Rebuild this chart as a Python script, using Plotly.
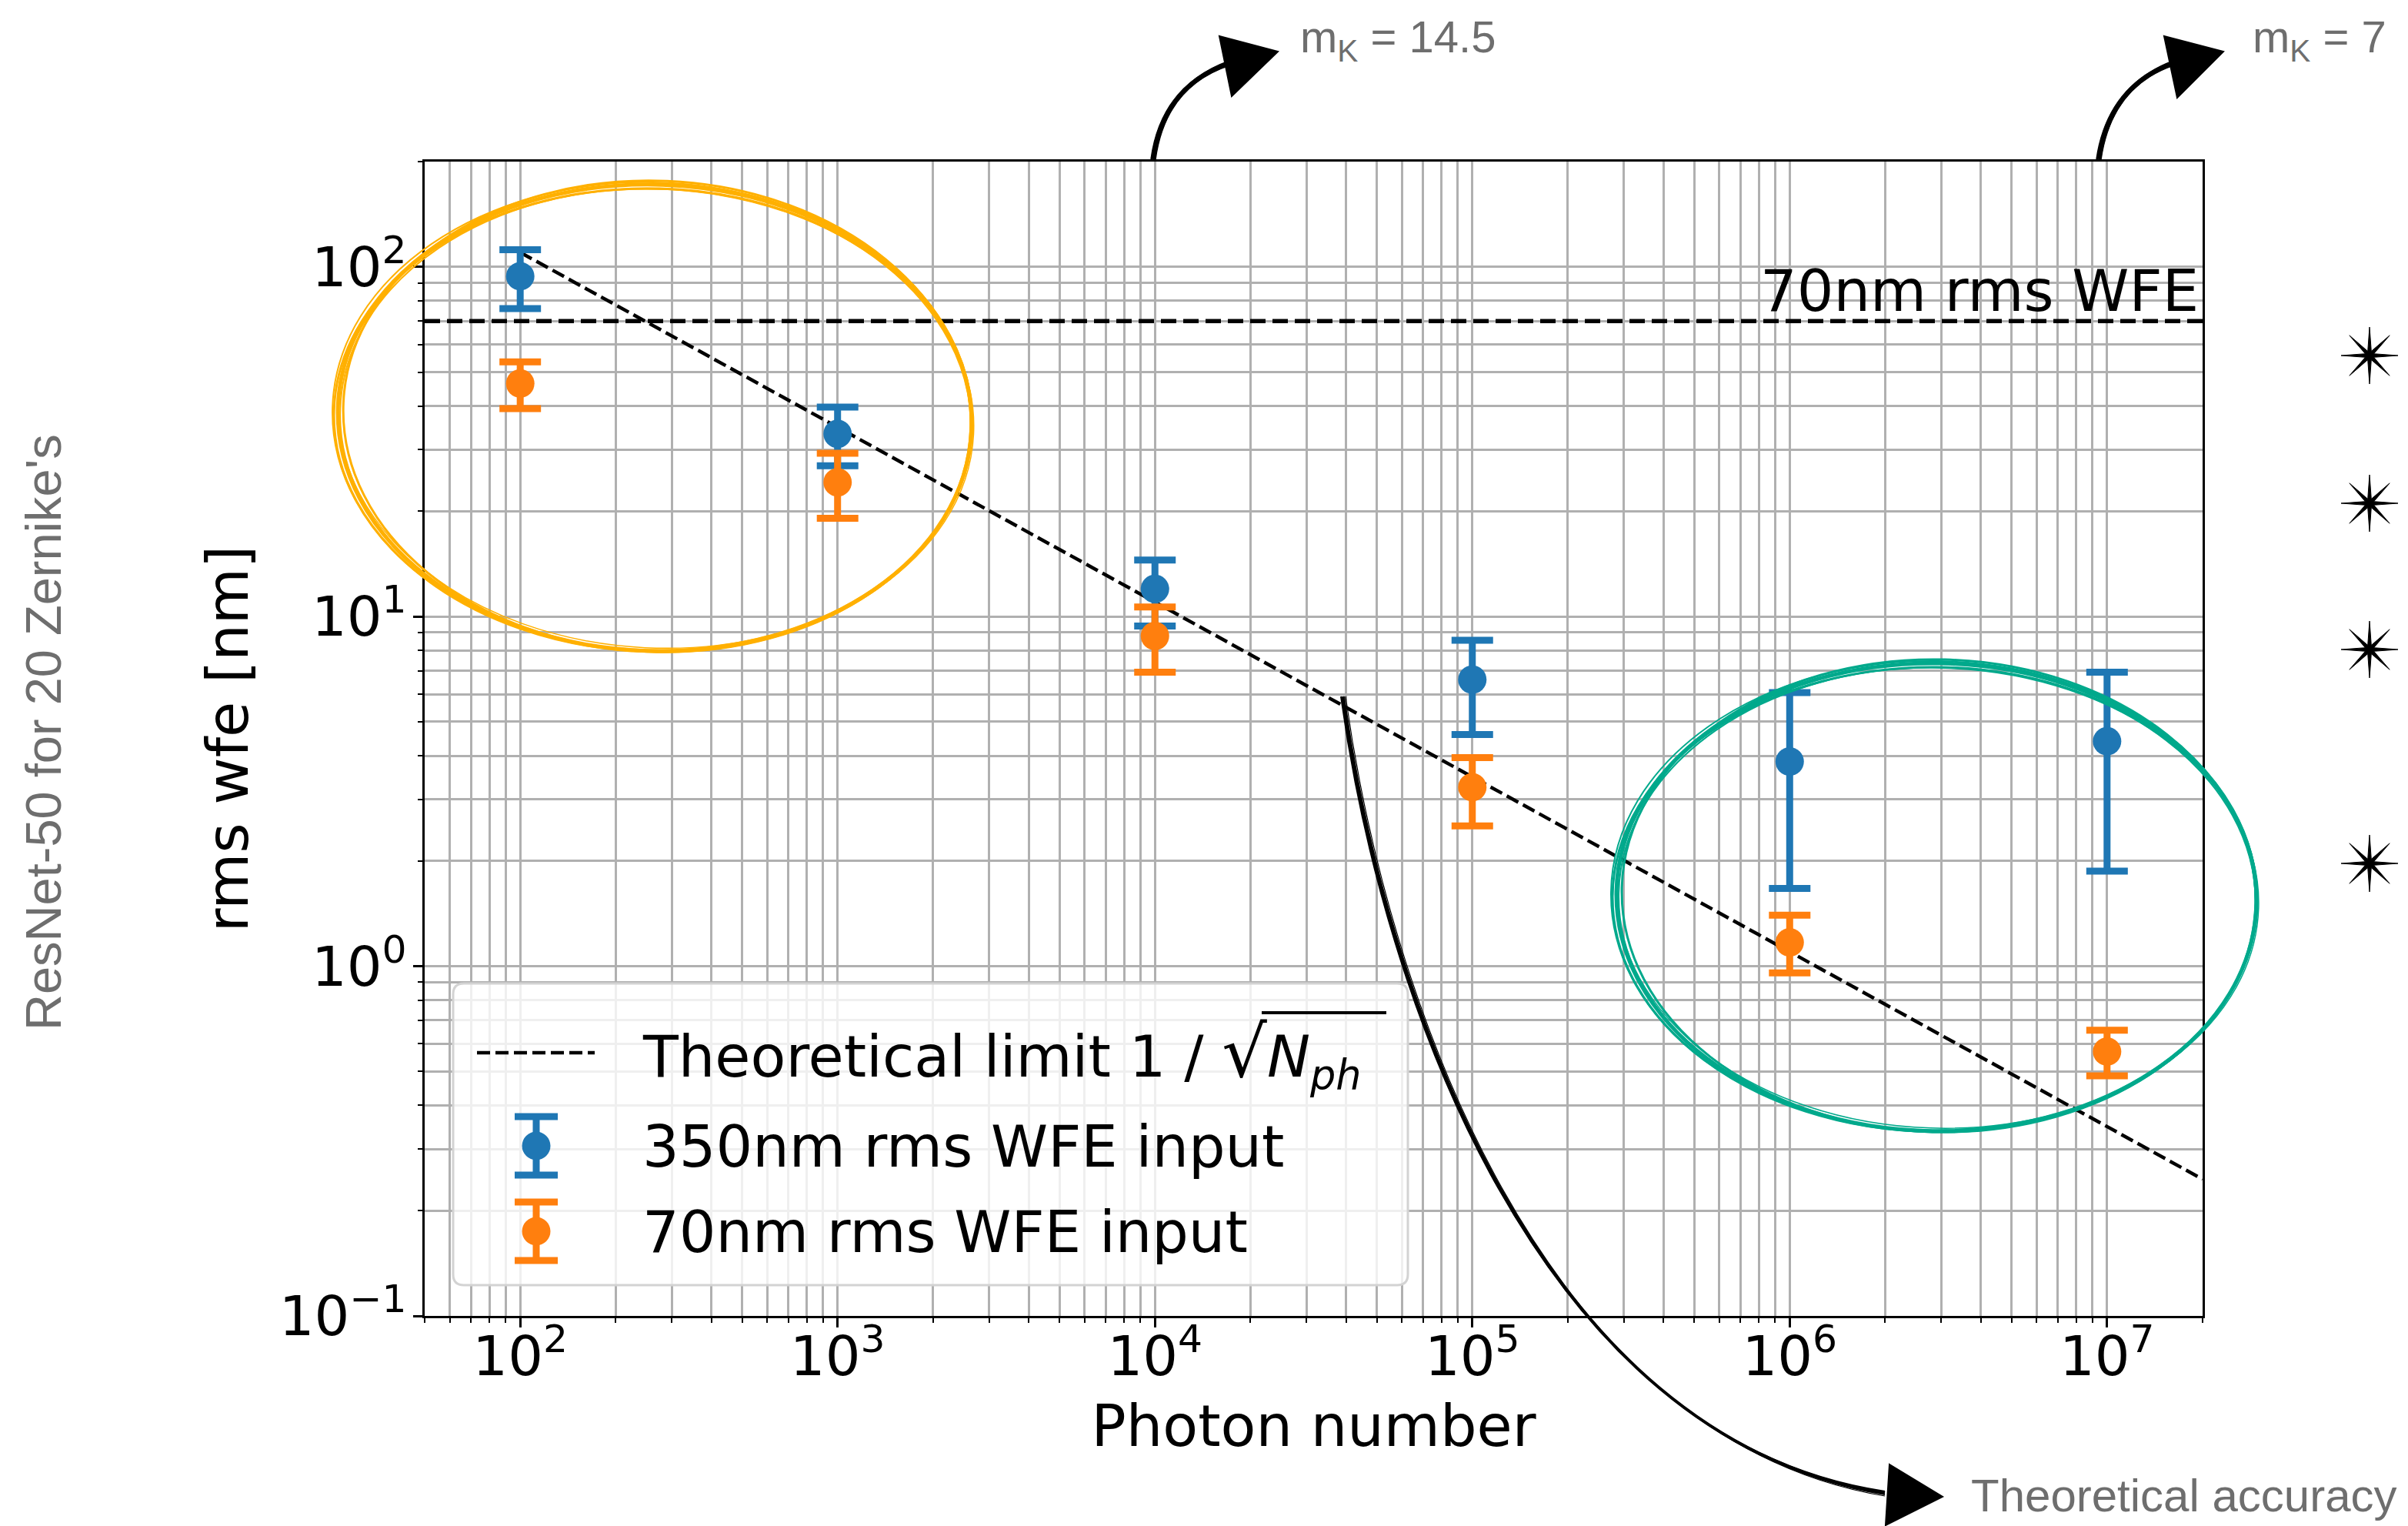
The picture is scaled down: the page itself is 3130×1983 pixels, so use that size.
import math
import plotly.graph_objects as go

# ---------------- data ----------------
photons = [1e2, 1e3, 1e4, 1e5, 1e6, 1e7]

wfe_350 = [94.0, 33.3, 12.0, 6.6, 3.85, 4.4]
wfe_350_low = [76.0, 27.0, 9.4, 4.6, 1.67, 1.87]
wfe_350_high = [112.0, 39.7, 14.5, 8.55, 6.06, 6.93]

wfe_70 = [46.4, 24.2, 8.8, 3.25, 1.17, 0.57]
wfe_70_low = [39.3, 19.1, 6.93, 2.52, 0.957, 0.486]
wfe_70_high = [53.5, 29.3, 10.65, 3.95, 1.40, 0.656]

theory_x = [1e2, 2e7]
theory_y = [110.0, 0.246]

limit_x = [50, 2e7]
limit_y = [70, 70]

x_tickvals = [1e2, 1e3, 1e4, 1e5, 1e6, 1e7]
x_ticktext = ["10<sup>2</sup>", "10<sup>3</sup>", "10<sup>4</sup>",
              "10<sup>5</sup>", "10<sup>6</sup>", "10<sup>7</sup>"]
y_tickvals = [0.1, 1, 10, 100]
y_ticktext = ["10<sup>\u22121</sup>", "10<sup>0</sup>", "10<sup>1</sup>", "10<sup>2</sup>"]

BLUE = "#1f77b4"
ORANGE = "#ff7f0e"
AMBER = "#ffb000"
TEAL = "#00a98c"
GRAY_TXT = "#6e6e6e"
GRID = "#b0b0b0"

# ---------------- geometry (absolute window pixels) ----------------
OFF = 8                      # default body margin of the html page
WIN_W, WIN_H = 3130, 1983
W, H = WIN_W - OFF, WIN_H - OFF
L, R, T, B = 552, 2863, 210, 1710


def px(x):
    return (x - L) / (R - L)


def py(y):
    return (B - y) / (B - T)


def P(x, y):
    return f"{px(x):.5f},{py(y):.5f}"


def ellipse_path(cx, cy, a, b, rot=0.0):
    k = 0.5523
    th = math.radians(rot)
    c, s = math.cos(th), math.sin(th)

    def pt(u, v):
        return P(cx + u * c - v * s, cy + u * s + v * c)

    pts = [
        (a, 0), (a, k * b), (k * a, b), (0, b),
        (-k * a, b), (-a, k * b), (-a, 0),
        (-a, -k * b), (-k * a, -b), (0, -b),
        (k * a, -b), (a, -k * b), (a, 0),
    ]
    d = "M " + pt(*pts[0])
    for i in range(1, 13, 3):
        d += " C " + pt(*pts[i]) + " " + pt(*pts[i + 1]) + " " + pt(*pts[i + 2])
    return d


def star_path(cx, cy, r=37, r_in=6):
    d = ""
    for i in range(16):
        ang = math.radians(i * 22.5)
        rr = r if i % 2 == 0 else r_in
        x = cx + rr * math.cos(ang)
        y = cy + rr * math.sin(ang)
        d += ("M " if i == 0 else " L ") + P(x, y)
    return d + " Z"


def poly_path(points):
    d = "M " + P(*points[0])
    for p in points[1:]:
        d += " L " + P(*p)
    return d + " Z"


shapes = []

# ---- manual legend frame (rounded) ----
lx0, lx1, ly0, ly1, rad = 589, 1830, 1278, 1670, 14
frame = ("M " + P(lx0 + rad, ly0) + " L " + P(lx1 - rad, ly0) +
         " Q " + P(lx1, ly0) + " " + P(lx1, ly0 + rad) +
         " L " + P(lx1, ly1 - rad) + " Q " + P(lx1, ly1) + " " + P(lx1 - rad, ly1) +
         " L " + P(lx0 + rad, ly1) + " Q " + P(lx0, ly1) + " " + P(lx0, ly1 - rad) +
         " L " + P(lx0, ly0 + rad) + " Q " + P(lx0, ly0) + " " + P(lx0 + rad, ly0) + " Z")
shapes.append(dict(type="path", xref="paper", yref="paper", path=frame, layer="above",
                   fillcolor="rgba(255,255,255,0.8)", line=dict(color="#d3d3d3", width=3)))

# legend: dashed line sample
shapes.append(dict(type="line", xref="paper", yref="paper", layer="above",
                   x0=px(620), x1=px(773), y0=py(1368), y1=py(1368),
                   line=dict(color="black", width=4.5, dash="17px,7px")))


def legend_errbar(cx, cy, color):
    out = []
    out.append(dict(type="line", xref="paper", yref="paper", layer="above",
                    x0=px(cx), x1=px(cx), y0=py(cy - 38), y1=py(cy + 38),
                    line=dict(color=color, width=9)))
    for yy in (cy - 38, cy + 38):
        out.append(dict(type="line", xref="paper", yref="paper", layer="above",
                        x0=px(cx - 28), x1=px(cx + 28), y0=py(yy), y1=py(yy),
                        line=dict(color=color, width=9)))
    out.append(dict(type="circle", xref="paper", yref="paper", layer="above",
                    x0=px(cx - 18.5), x1=px(cx + 18.5), y0=py(cy + 18.5), y1=py(cy - 18.5),
                    fillcolor=color, line=dict(color=color, width=0)))
    return out


shapes += legend_errbar(697, 1489, BLUE)
shapes += legend_errbar(697, 1600, ORANGE)

# overline of the square root in the legend label
shapes.append(dict(type="line", xref="paper", yref="paper", layer="above",
                   x0=px(1640), x1=px(1802), y0=py(1316), y1=py(1316),
                   line=dict(color="black", width=4)))

# ---- hand-drawn ellipses ----
for (dx, dy, da, db, rot, w) in [(0, 0, 0, 0, 2.0, 5), (3, -2, -4, 3, 2.5, 3), (-2, 2, 3, -3, 1.5, 3),
                                 (1, 3, -2, -2, 2.2, 2), (-3, -1, 4, 2, 1.8, 2), (2, 1, 1, -5, 2.8, 1.5)]:
    shapes.append(dict(type="path", xref="paper", yref="paper", layer="above",
                       path=ellipse_path(851 + dx, 543 + dy, 412 + da, 303 + db, rot),
                       fillcolor="rgba(0,0,0,0)", line=dict(color=AMBER, width=w)))
for (dx, dy, da, db, rot, w) in [(0, 0, 0, 0, 1.0, 5), (3, -2, -4, 3, 1.5, 3), (-2, 2, 3, -3, 0.5, 3),
                                 (1, 3, -2, -2, 1.2, 2), (-3, -1, 4, 2, 0.8, 2), (2, 1, 1, -5, 1.8, 1.5)]:
    shapes.append(dict(type="path", xref="paper", yref="paper", layer="above",
                       path=ellipse_path(2517 + dx, 1166 + dy, 416 + da, 304 + db, rot),
                       fillcolor="rgba(0,0,0,0)", line=dict(color=TEAL, width=w)))

# ---- hand-drawn arrows ----
for (o, w) in [(0, 6), (2.5, 2.5), (-2.5, 2.5)]:
    shapes.append(dict(type="path", xref="paper", yref="paper", layer="above",
                       path=f"M {P(1499 + o, 207)} Q {P(1512 + o, 112)} {P(1598, 82 + o)}",
                       fillcolor="rgba(0,0,0,0)", line=dict(color="black", width=w)))
    shapes.append(dict(type="path", xref="paper", yref="paper", layer="above",
                       path=f"M {P(2728 + o, 207)} Q {P(2742 + o, 112)} {P(2825, 82 + o)}",
                       fillcolor="rgba(0,0,0,0)", line=dict(color="black", width=w)))
for (o, w) in [(0, 4), (2, 2), (-2, 2), (4, 1.2)]:
    shapes.append(dict(type="path", xref="paper", yref="paper", layer="above",
                       path=f"M {P(1745 + o, 905)} C {P(1800 + o, 1300)} {P(2000 + o, 1870)} {P(2450, 1940 + o)}",
                       fillcolor="rgba(0,0,0,0)", line=dict(color="black", width=w)))
for tri in ([(1585, 47), (1661, 67), (1601, 125)],
            [(2813, 47), (2890, 67), (2830, 127)],
            [(2456, 1903), (2525, 1945), (2451, 1982)]):
    shapes.append(dict(type="path", xref="paper", yref="paper", layer="above",
                       path=poly_path(tri), fillcolor="black", line=dict(color="black", width=2)))

# ---- stars on the right ----
for sy in (462, 654, 844, 1122):
    shapes.append(dict(type="path", xref="paper", yref="paper", layer="above",
                       path=star_path(3080, sy), fillcolor="black", line=dict(color="black", width=1)))

# ---------------- traces ----------------
fig = go.Figure()

fig.add_trace(go.Scatter(x=limit_x, y=limit_y, mode="lines", showlegend=False,
                         line=dict(color="black", width=5.5, dash="20px,9px"),
                         name="70nm rms WFE"))
fig.add_trace(go.Scatter(x=theory_x, y=theory_y, mode="lines", showlegend=False,
                         line=dict(color="black", width=4.5, dash="17px,7px"),
                         name="Theoretical limit"))

fig.add_trace(go.Scatter(
    x=photons, y=wfe_350, mode="markers", showlegend=False, name="350nm rms WFE input",
    marker=dict(color=BLUE, size=37),
    error_y=dict(type="data", symmetric=False,
                 array=[h - v for h, v in zip(wfe_350_high, wfe_350)],
                 arrayminus=[v - l for v, l in zip(wfe_350, wfe_350_low)],
                 color=BLUE, thickness=9, width=27)))
fig.add_trace(go.Scatter(
    x=photons, y=wfe_70, mode="markers", showlegend=False, name="70nm rms WFE input",
    marker=dict(color=ORANGE, size=37),
    error_y=dict(type="data", symmetric=False,
                 array=[h - v for h, v in zip(wfe_70_high, wfe_70)],
                 arrayminus=[v - l for v, l in zip(wfe_70, wfe_70_low)],
                 color=ORANGE, thickness=9, width=27)))

# ---------------- annotations ----------------
annotations = []


def ann(text, x, y, size, color="black", family="DejaVu Sans", xanchor="left", yanchor="middle", angle=0):
    annotations.append(dict(text=text, x=px(x), y=py(y), xref="paper", yref="paper",
                            xanchor=xanchor, yanchor=yanchor, showarrow=False, textangle=angle,
                            font=dict(family=family, size=size, color=color)))


# legend labels
ann("Theoretical limit 1 / <span style='font-size:92px'>\u221a</span><i>N</i><sub><i>ph</i></sub>",
    833, 1370, 75)
ann("350nm rms WFE input", 833, 1490, 75)
ann("70nm rms WFE input", 833, 1601, 75)

# horizontal line label
ann("70nm rms WFE", 2860, 378, 75, xanchor="right")

# gray sketch annotations
ann("m<sub>K</sub> = 14.5", 1688, 52, 58, color=GRAY_TXT, family="Liberation Sans")
ann("m<sub>K</sub> = 7", 2926, 52, 58, color=GRAY_TXT, family="Liberation Sans")
ann("Theoretical accuracy", 2560, 1944, 60, color=GRAY_TXT, family="Liberation Sans")
ann("ResNet-50 for 20 Zernike's", 56, 952, 65, color=GRAY_TXT, family="Liberation Sans",
    xanchor="center", angle=-90)

# ---------------- layout ----------------
x_minor = [m * 10 ** e for e in range(1, 8) for m in range(2, 10) if 50 <= m * 10 ** e <= 2e7]
y_minor = [m * 10.0 ** e for e in range(-1, 3) for m in range(2, 10) if m * 10.0 ** e <= 200]

axis_common = dict(
    type="log", showline=True, linecolor="black", linewidth=3, mirror=True,
    ticks="outside", ticklen=12, tickwidth=2.5, tickcolor="black",
    showgrid=True, gridcolor=GRID, gridwidth=2.6, zeroline=False,
    tickfont=dict(family="DejaVu Sans", size=72, color="black"),
    tickmode="array",
)

fig.update_layout(
    width=W, height=H, autosize=False,
    margin=dict(l=L - OFF, r=WIN_W - R, t=T - OFF, b=WIN_H - B, pad=0),
    paper_bgcolor="white", plot_bgcolor="white",
    showlegend=False,
    shapes=shapes, annotations=annotations,
    xaxis=dict(
        **axis_common,
        range=[math.log10(50), math.log10(2e7)],
        tickvals=x_tickvals, ticktext=x_ticktext,
        ticklabelstandoff=-24,
        minor=dict(tickmode="array", tickvals=x_minor, ticks="outside", ticklen=6,
                   tickwidth=2, tickcolor="black", showgrid=True, gridcolor=GRID, gridwidth=2.6),
        title=dict(text="Photon number", font=dict(family="DejaVu Sans", size=75, color="black"),
                   standoff=24),
        automargin=False,
    ),
    yaxis=dict(
        **axis_common,
        range=[-1, math.log10(200)],
        tickvals=y_tickvals, ticktext=y_ticktext,
        ticklabelstandoff=-6,
        minor=dict(tickmode="array", tickvals=y_minor, ticks="outside", ticklen=6,
                   tickwidth=2, tickcolor="black", showgrid=True, gridcolor=GRID, gridwidth=2.6),
        title=dict(text="rms wfe [nm]", font=dict(family="DejaVu Sans", size=75, color="black"),
                   standoff=16),
        automargin=False,
    ),
)

fig.write_html("out.html")
